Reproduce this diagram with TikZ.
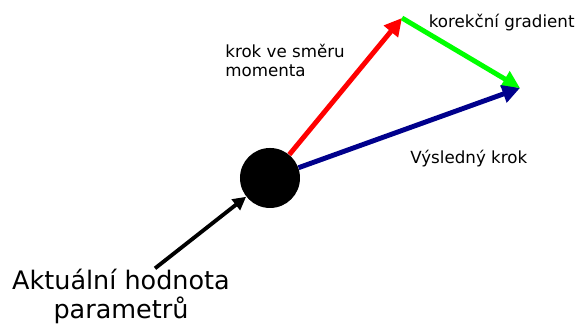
\documentclass[tikz,border=0pt]{standalone}
\usepackage{fontspec}
\setmainfont{DejaVu Sans}
\usetikzlibrary{arrows.meta}

\begin{document}
\begin{tikzpicture}[>={Triangle[length=10pt,width=10pt]},line cap=butt,
  vec/.style={->,line width=2.8pt},
  lbl/.style={font=\fontsize{9.5}{11}\selectfont,align=left,inner sep=0pt}]
\useasboundingbox (0,0) rectangle (11.62,6.48);
\node[circle,fill=black,minimum size=1.2cm,inner sep=0pt] (dot) at (5.40,2.92) {};
\coordinate (tipM) at (8.04,6.12);
\coordinate (tipR) at (10.40,4.72);
\draw[vec,red] (dot) -- (tipM);
\draw[vec,green] (tipM) -- (tipR);
\draw[vec,blue!55!black] (dot) -- (tipR);
\node[lbl,anchor=west] (lblGrad) at (8.57,6.03) {korekční gradient};
\node[lbl,anchor=west] (lblMom) at (4.50,5.27) {krok ve směru\\momenta};
\node[lbl,anchor=west] (lblRes) at (8.20,3.31) {Výsledný krok};
\node[font=\fontsize{14.5}{17}\selectfont,align=center,inner sep=0pt] (lblPar) at (2.42,0.55) {Aktuální hodnota\\parametrů};
\draw[->,>={Triangle[length=7.5pt,width=7.5pt]},line width=2.2pt] ([xshift=0.68cm]lblPar.north) -- (dot);
\end{tikzpicture}
\end{document}
